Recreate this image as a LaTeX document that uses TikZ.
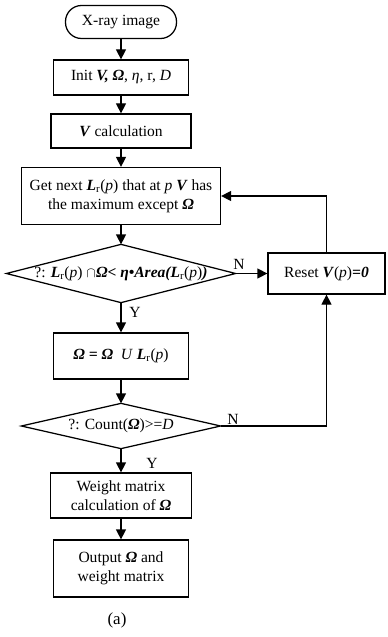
\documentclass[tikz,border=0pt]{standalone}
\usepackage{fontspec}
\setmainfont{Liberation Serif}
\usetikzlibrary{arrows.meta}
\newcommand{\bi}[1]{\textbf{\textit{#1}}}
\begin{document}
\begin{tikzpicture}[x=1bp,y=-1bp,
  font=\fontsize{15.6}{19}\selectfont,
  line width=1.25bp,
  box/.style={draw, inner sep=0pt, align=center},
  term/.style={draw, inner sep=0pt, rounded corners=16bp},
  plain/.style={inner sep=0pt, align=center},
  arr/.style={-{Triangle[length=10bp,width=10bp]}},
  lbl/.style={inner sep=0pt}]
\useasboundingbox (0,0) rectangle (387,637);
\node[term, minimum width=111bp, minimum height=33bp] (start) at (121,22) {X-ray image};
\node[box, minimum width=135bp, minimum height=35bp] (init) at (121,77.5) {Init \bi{V,} \bi{Ω}, \textit{η}, r, \textit{D}};
\node[box, minimum width=140bp, minimum height=34bp] (vcalc) at (121,131) {\bi{V} calculation};
\node[box, minimum width=199bp, minimum height=57bp] (get) at (121,196) {Get next \bi{L}\textsubscript{r}(\textit{p}) that at \textit{p} \bi{V} has\\the maximum except \bi{Ω}};
\node[plain, minimum width=228bp, minimum height=57bp] (d1) at (121,273.5) {?: \bi{L}\textsubscript{r}(\textit{p}) $\cap$\bi{Ω< η•Area(L}\textsubscript{r}(\textit{p})\bi{)}};
\draw (d1.west) -- (d1.north) -- (d1.east) -- (d1.south) -- cycle;
\node[box, minimum width=117bp, minimum height=41bp] (reset) at (326.5,273.5) {Reset \bi{V}(\textit{p})\bi{=0}};
\node[box, minimum width=135bp, minimum height=46bp] (omega) at (121,356) {\bi{Ω = Ω}\ \ \textit{U} \bi{L}\textsubscript{r}(\textit{p})};
\node[plain, minimum width=198bp, minimum height=44bp] (d2) at (121,426) {?: Count(\bi{Ω})>=\textit{D}};
\draw (d2.west) -- (d2.north) -- (d2.east) -- (d2.south) -- cycle;
\node[box, minimum width=141bp, minimum height=45bp] (weight) at (121,495.5) {Weight matrix\\calculation of \bi{Ω}};
\node[box, minimum width=135bp, minimum height=57bp] (output) at (121,568.5) {Output \bi{Ω} and\\weight matrix};
\node[plain, font=\fontsize{17}{20}\selectfont] (cap) at (117,620) {(a)};
\draw[arr] (start) -- (init);
\draw[arr] (init) -- (vcalc);
\draw[arr] (vcalc) -- (get);
\draw[arr] (get) -- (d1.north);
\draw[arr] (d1.south) -- (omega);
\draw[arr] (omega) -- (d2.north);
\draw[arr] (d2.south) -- (weight);
\draw[arr] (weight) -- (output);
\draw[arr] (d1.east) -- (reset.west);
\draw[arr] (reset.north) |- (get.east);
\draw[arr] (d2.east) -| (reset.south);
\node[lbl] (n1) at (239,264) {N};
\node[lbl] (y1) at (135,312) {Y};
\node[lbl] (n2) at (233,419) {N};
\node[lbl] (y2) at (152,463) {Y};
\end{tikzpicture}
\end{document}
